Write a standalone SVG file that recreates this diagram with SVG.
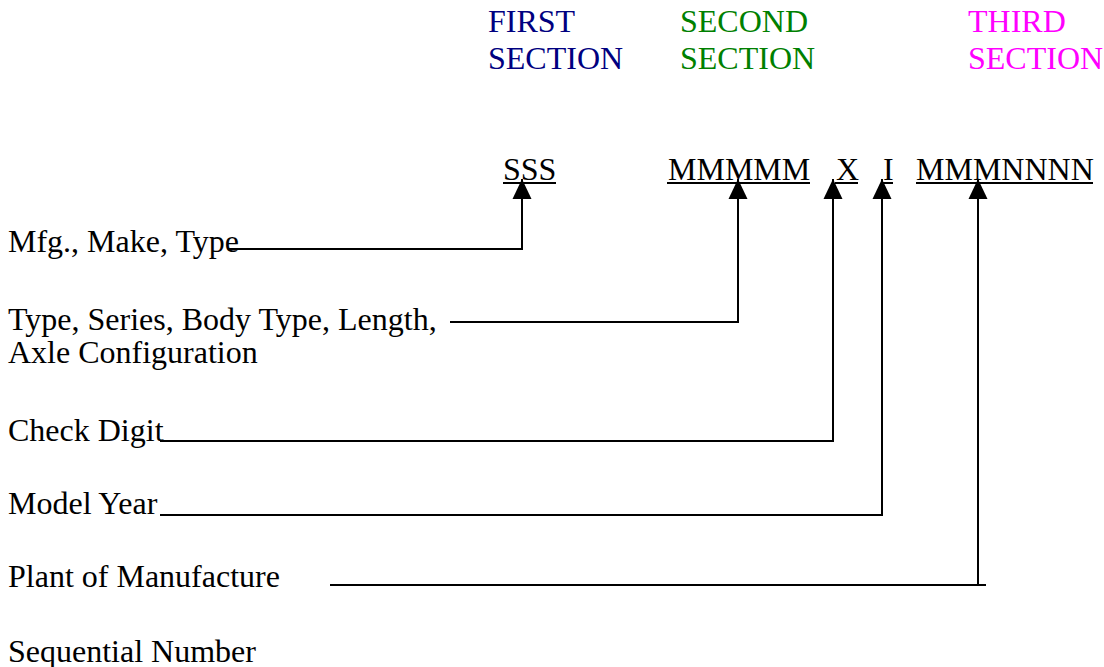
<svg xmlns="http://www.w3.org/2000/svg" width="1104" height="667" viewBox="0 0 1104 667">
<style>
text{font-family:"Liberation Serif","Times New Roman",serif;font-size:32px;fill:#000}
.s1{fill:#000080}.s2{fill:#008000}.s3{fill:#ff00ff}
.c{fill:none;stroke:#000;stroke-width:2}
.u{stroke:#000;stroke-width:2}
</style>
<defs>
<marker id="ah" markerUnits="userSpaceOnUse" markerWidth="22" markerHeight="22" viewBox="0 0 22 22" refX="21" refY="11" orient="auto">
<path d="M1,1.5 L21,11 L1,20.5 Z" fill="#000"/>
</marker>
</defs>
<rect width="1104" height="667" fill="#fff"/>
<g id="headers">
<g id="first-section"><text class="s1" x="488" y="32">FIRST</text><text class="s1" x="488" y="69">SECTION</text></g>
<g id="second-section"><text class="s2" x="680" y="32">SECOND</text><text class="s2" x="680" y="69">SECTION</text></g>
<g id="third-section"><text class="s3" x="968" y="32">THIRD</text><text class="s3" x="968" y="69">SECTION</text></g>
</g>
<g id="code">
<g id="code-sss"><text x="503" y="180">SSS</text><line class="u" x1="503" y1="183" x2="556" y2="183"/></g>
<g id="code-mmmmm"><text x="668" y="180">MMMMM</text><line class="u" x1="667" y1="183" x2="810" y2="183"/></g>
<g id="code-x"><text x="836" y="180">X</text><line class="u" x1="835" y1="183" x2="858" y2="183"/></g>
<g id="code-i"><text x="883" y="180">I</text><line class="u" x1="883" y1="183" x2="893" y2="183"/></g>
<g id="code-mmmnnnn"><text x="916" y="180">MMMNNNN</text><line class="u" x1="916" y1="183" x2="1093" y2="183"/></g>
</g>
<g id="labels">
<g id="label-mfg"><text x="8" y="252">Mfg., Make, Type</text></g>
<g id="label-type"><text x="8" y="330">Type, Series, Body Type, Length,</text><text x="8" y="363">Axle Configuration</text></g>
<g id="label-check"><text x="8" y="441">Check Digit</text></g>
<g id="label-year"><text x="8" y="514">Model Year</text></g>
<g id="label-plant"><text x="8" y="587">Plant of Manufacture</text></g>
<g id="label-seq"><text x="8" y="662">Sequential Number</text></g>
</g>
<g id="connectors">
<path class="c" d="M228,249 H522 V179" marker-end="url(#ah)"/>
<path class="c" d="M450,322 H738 V179" marker-end="url(#ah)"/>
<path class="c" d="M160,441 H833 V179" marker-end="url(#ah)"/>
<path class="c" d="M160,515 H882 V179" marker-end="url(#ah)"/>
<path class="c" d="M330,585 H986"/>
<path class="c" d="M978,585 V179" marker-end="url(#ah)"/>
</g>
</svg>
